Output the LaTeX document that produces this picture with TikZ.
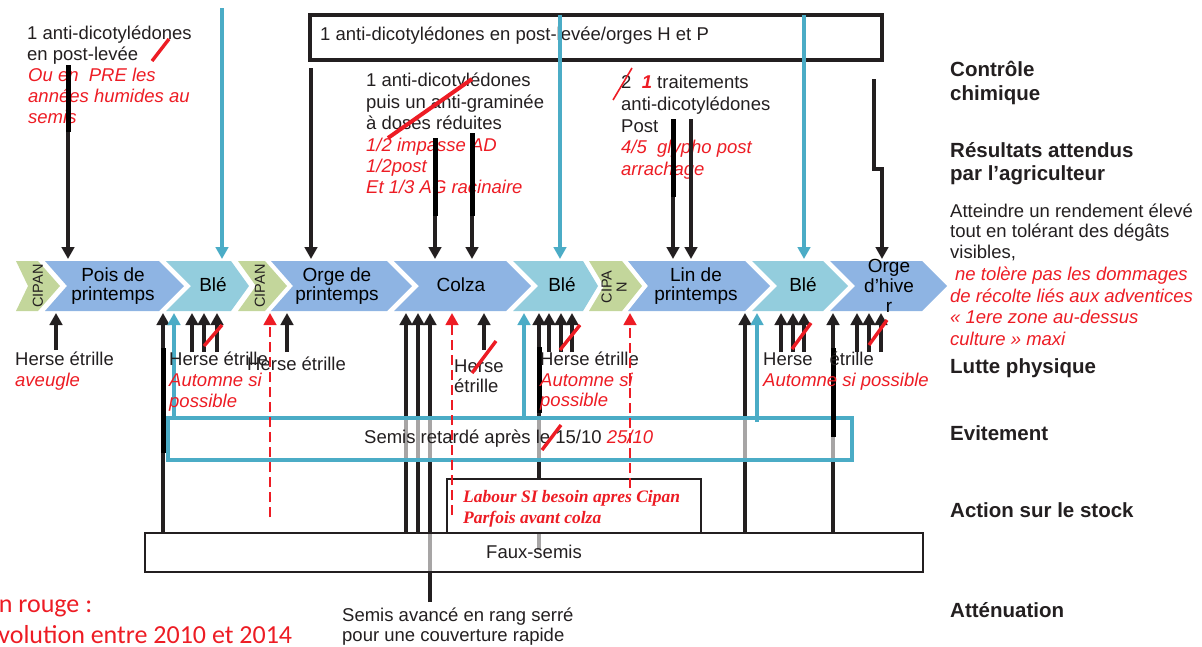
\documentclass[tikz,border=0pt]{standalone}
\usepackage{fontspec}
\setmainfont{Liberation Sans}
\newfontfamily\labfont{Liberation Serif}
\newfontfamily\calfont{Carlito}
\usetikzlibrary{arrows.meta}
\definecolor{txt}{HTML}{231F20}
\definecolor{rd}{HTML}{ED1C24}
\definecolor{cy}{HTML}{4BACC6}
\definecolor{cblue}{HTML}{8EB4E3}
\definecolor{caqua}{HTML}{93CDDD}
\definecolor{cgreen}{HTML}{C3D69B}
\newcommand\bodyf{\fontsize{18.5}{21}\selectfont}
\newcommand\headf{\fontsize{20.5}{24}\selectfont\bfseries}
\newcommand\chevf{\fontsize{19}{19}\selectfont}
\newcommand\cipf{\fontsize{14.5}{15}\selectfont}
\newcommand\chevshape[5]{\fill[#1] (#2,261) -- (#3,261) -- ({#3+#5},286) -- (#3,311) -- (#2,311) -- ({#2+#4},286) -- cycle;}
\tikzset{
 tx/.style={anchor=base west, inner sep=0pt, text=txt, font=\bodyf},
 rtx/.style={anchor=base west, inner sep=0pt, text=rd, font=\bodyf\itshape},
 hd/.style={anchor=base west, inner sep=0pt, text=txt, font=\headf},
 ctx/.style={anchor=base, inner sep=0pt, text=black, font=\chevf},
 cip/.style={rotate=90, inner sep=0pt, text=txt, font=\cipf, align=center},
 arr/.style={draw=txt, line width=3.2pt, -{Triangle[width=12.5pt,length=12pt]}},
 carr/.style={draw=cy, line width=3.2pt, -{Triangle[width=12.5pt,length=12pt]}},
 rarr/.style={draw=rd, line width=2.8pt, dash pattern=on 10pt off 5pt, -{Triangle[width=12.5pt,length=12pt]}},
 seg/.style={draw=black, line width=5pt},
 slash/.style={draw=rd, line width=3.4pt},
 labtx/.style={anchor=base west, inner sep=0pt, text=rd, font=\labfont\fontsize{17.5}{21}\selectfont\bfseries\itshape},
}
\begin{document}
\begin{tikzpicture}[x=1pt,y=-1pt]
\useasboundingbox (0,0) rectangle (1202,646);
\clip (0,0) rectangle (1202,646);
% ---------- chevrons ----------
\chevshape{cgreen}{16}{38}{12}{22}
\chevshape{cblue}{45}{159}{22}{25}
\chevshape{caqua}{166}{231}{25}{18}
\chevshape{cgreen}{238}{265}{18}{22}
\chevshape{cblue}{271}{387}{22}{25}
\chevshape{cblue}{394}{506}{25}{25}
\chevshape{caqua}{513}{583}{25}{15}
\chevshape{cgreen}{589}{622}{15}{20}
\chevshape{cblue}{628}{745}{20}{25}
\chevshape{caqua}{752}{823}{25}{25}
\chevshape{cblue}{830}{922}{25}{25}
% chevron labels
\node[cip] (cip1) at (38,286) {CIPAN};
\node[ctx] (pois1) at (113,281) {Pois de};
\node[ctx] (pois2) at (113,300) {printemps};
\node[ctx] (ble1) at (213,291) {Blé};
\node[cip] (cip2) at (260,286) {CIPAN};
\node[ctx] (orge1) at (337,281) {Orge de};
\node[ctx] (orge2) at (337,300) {printemps};
\node[ctx] (colza) at (461,291) {Colza};
\node[ctx] (ble2) at (562,291) {Blé};
\node[cip] (cip3) at (614,287) {CIPA\\N};
\node[ctx] (lin1) at (696,281) {Lin de};
\node[ctx] (lin2) at (696,300) {printemps};
\node[ctx] (ble3) at (803,291) {Blé};
\node[ctx] (oh1) at (889,272) {Orge};
\node[ctx] (oh2) at (889,292) {d'hive};
\node[ctx] (oh3) at (889,312) {r};
% ---------- top part ----------
\draw[txt, line width=4pt] (310,15) rectangle (882,60);
\node[tx] (boxt) at (320,40) {1 anti-dicotylédones en post-levée/orges H et P};
\node[tx] (a1) at (27,39) {1 anti-dicotylédones};
\node[tx] (a2) at (27,60) {en post-levée};
\node[rtx] (a3) at (28,81) {Ou en\ \ PRE les};
\node[rtx] (a4) at (28,102) {années humides au};
\node[rtx] (a5) at (28,123) {semis};
\node[tx] (b1) at (366,86) {1 anti-dicotylédones};
\node[tx] (b2) at (366,108) {puis un anti-graminée};
\node[tx] (b3) at (366,129) {à doses réduites};
\node[rtx] (b4) at (366,151) {1/2 impasse AD};
\node[rtx] (b5) at (366,172) {1/2post};
\node[rtx] (b6) at (366,193) {Et 1/3 AG racinaire};
\node[tx] (c1) at (621,88) {2\ \ {\color{rd}\bfseries\itshape 1} traitements};
\node[tx] (c2) at (621,110) {anti-dicotylédones};
\node[tx] (c3) at (621,132) {Post};
\node[rtx] (c4) at (621,153) {4/5\ \ glypho post};
\node[rtx] (c5) at (621,175) {arrachage};
% top arrows
\draw[arr] (68,65) -- (68,259);
\draw[seg] (68,65) -- (68,132);
\draw[carr] (222,8) -- (222,259);
\draw[arr] (311,68) -- (311,259);
\draw[arr] (435,138) -- (435,259);
\draw[seg] (435,138) -- (435,216);
\draw[arr] (472,133) -- (472,259);
\draw[seg] (472,133) -- (472,216);
\draw[carr] (560,15) -- (560,259);
\draw[arr] (673,119) -- (673,259);
\draw[seg] (673,119) -- (673,197);
\draw[arr] (691,119) -- (691,259);
\draw[carr] (804,15) -- (804,259);
\draw[arr] (874,79) -- (874,169) -- (882,169) -- (882,259);
% top slashes
\draw[slash] (152,61) -- (169,39);
\draw[slash, line width=4pt] (388,138) -- (472,79);
\draw[slash, line width=1.6pt] (613,100) -- (632,68);
% ---------- right column ----------
\node[hd] (h1) at (950,76) {Contrôle};
\node[hd] (h1b) at (950,100) {chimique};
\node[hd] (h2) at (950,157) {Résultats attendus};
\node[hd] (h2b) at (950,180) {par l’agriculteur};
\node[tx] (r1) at (950,217) {Atteindre un rendement élevé};
\node[tx] (r2) at (950,237) {tout en tolérant des dégâts};
\node[tx] (r3) at (950,258) {visibles,};
\node[rtx] (r4) at (955,280) {ne tolère pas les dommages};
\node[rtx] (r5) at (950,302) {de récolte liés aux adventices};
\node[rtx] (r6) at (950,323) {« 1ere zone au-dessus};
\node[rtx] (r7) at (950,345) {culture » maxi};
\node[hd] (h3) at (950,373) {Lutte physique};
\node[hd] (h4) at (950,440) {Evitement};
\node[hd] (h5) at (950,517) {Action sur le stock};
\node[hd] (h6) at (950,617) {Atténuation};
% ---------- bottom long lines ----------
\draw[arr] (163,533) -- (163,313);
\draw[arr] (406,533) -- (406,313);
\draw[arr] (418,533) -- (418,313);
\draw[arr] (430,602) -- (430,313);
\draw[arr] (539,550) -- (539,313);
\draw[arr] (745,533) -- (745,313);
\draw[arr] (833,533) -- (833,313);
% boxes
\draw[cy, line width=3.2pt, fill=white, fill opacity=0.6] (168,418) rectangle (852,460);
\draw[txt, line width=1.6pt, fill=white] (447,479) rectangle (701,533);
\draw[txt, line width=1.6pt, fill=white, fill opacity=0.6] (145,533) rectangle (923,572);
\node[tx] (evt) at (364,443) {Semis retardé après le 15/10 {\color{rd}\itshape 25/10}};
\node[labtx] (lab1) at (463,502) {Labour SI besoin apres Cipan};
\node[labtx] (lab2) at (463,523) {Parfois avant colza};
\node[tx] (faux) at (486,558) {Faux-semis};
\node[tx] (sa1) at (342,621) {Semis avancé en rang serré};
\node[tx] (sa2) at (342,641) {pour une couverture rapide};
% thick overlays
\draw[seg] (163,348) -- (163,453);
\draw[seg] (539,347) -- (539,413);
\draw[seg] (833,348) -- (833,437);
% short arrows and others
\draw[arr] (56,350) -- (56,313);
\draw[carr] (174,418) -- (174,313);
\draw[arr] (192,352) -- (192,313);
\draw[arr] (204,352) -- (204,313);
\draw[arr] (217,352) -- (217,313);
\draw[arr] (287,352) -- (287,313);
\draw[arr] (484,350) -- (484,313);
\draw[carr] (524,420) -- (524,313);
\draw[arr] (549,352) -- (549,313);
\draw[arr] (561,352) -- (561,313);
\draw[arr] (572,352) -- (572,313);
\draw[carr] (757,422) -- (757,313);
\draw[arr] (781,352) -- (781,313);
\draw[arr] (793,352) -- (793,313);
\draw[arr] (804,352) -- (804,313);
\draw[arr] (857,352) -- (857,313);
\draw[arr] (869,352) -- (869,313);
\draw[arr] (881,352) -- (881,313);
% bottom texts
\node[tx] (hs1) at (15,365) {Herse étrille};
\node[rtx] (hs1b) at (15,386) {aveugle};
\node[tx] (hs2) at (169,365) {Herse étrille};
\node[rtx] (hs2b) at (169,386) {Automne si};
\node[rtx] (hs2c) at (169,407) {possible};
\node[tx] (hs3) at (247,370) {Herse étrille};
\node[tx] (hs4) at (454,372) {Herse};
\node[tx] (hs4b) at (454,392) {étrille};
\node[tx] (hs5) at (540,365) {Herse étrille};
\node[rtx] (hs5b) at (540,386) {Automne si};
\node[rtx] (hs5c) at (540,406) {possible};
\node[tx] (hs6) at (763,365) {Herse\hspace{12pt} étrille};
\node[rtx] (hs6b) at (763,386) {Automne si possible};
% red dashed arrows
\draw[rarr] (270,517) -- (270,313);
\draw[rarr] (452,515) -- (452,313);
\draw[rarr] (630,488) -- (630,313);
% red slashes bottom
\draw[slash] (204,346) -- (222,325);
\draw[slash] (472,373) -- (496,341);
\draw[slash] (560,350) -- (580,325);
\draw[slash] (792,349) -- (811,323);
\draw[slash] (869,345) -- (887,320);
\draw[slash] (542,450) -- (561,425);
% legend
\node[anchor=base west, inner sep=0pt, text=rd, font=\calfont\fontsize{26}{31}\selectfont] (leg1) at (-14,612) {En rouge :};
\node[anchor=base west, inner sep=0pt, text=rd, font=\calfont\fontsize{26}{31}\selectfont] (leg2) at (-14,643) {Evolution entre 2010 et 2014};
\end{tikzpicture}
\end{document}
